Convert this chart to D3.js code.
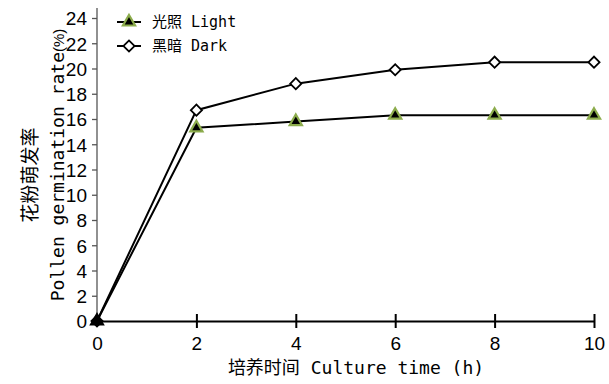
<!DOCTYPE html>
<html>
<head>
<meta charset="utf-8">
<script src="https://cdn.jsdelivr.net/npm/d3@7/dist/d3.min.js"></script>
<style>
  html, body { margin: 0; padding: 0; background: #fff; }
  svg { display: block; }
</style>
</head>
<body>
<svg id="chart" width="609" height="384"></svg>
<script>
// Culture time (h)
const hours = [0, 2, 4, 6, 8, 10];
// Pollen germination rate (%)
const lightRate = [0, 15.3, 15.8, 16.3, 16.3, 16.3];
const darkRate = [0, 16.7, 18.8, 19.9, 20.5, 20.5];
const xTicks = [0, 2, 4, 6, 8, 10];
const yTicks = [0, 2, 4, 6, 8, 10, 12, 14, 16, 18, 20, 22, 24];
const seriesNames = ["光照 Light", "黑暗 Dark"];

const svg = d3.select("#chart");
const monoCJK = "'DejaVu Sans Mono', 'Noto Sans CJK SC', monospace";
const numFont = "'Liberation Sans', Arial, sans-serif";

const x = d3.scaleLinear().domain([0, 10]).range([97, 594]);
const y = d3.scaleLinear().domain([0, 24]).range([321, 18]);

// Y axis: ticks pointing outward
const yAxis = svg.append("g").attr("transform", `translate(${x(0)},0)`)
  .call(d3.axisLeft(y).tickValues(yTicks).tickSize(5).tickPadding(5).tickSizeOuter(0));
yAxis.select(".domain").attr("stroke", "#555").attr("stroke-width", 1.3)
  .attr("d", `M0,8V${y(0)}`);
yAxis.selectAll(".tick line").attr("stroke", "#555").attr("stroke-width", 1.3);
yAxis.selectAll(".tick text").attr("font-family", numFont).attr("font-size", 19)
  .attr("fill", "#000").attr("dy", "0.36em");

// X axis: ticks crossing the baseline
const xAxis = svg.append("g").attr("transform", `translate(0,${y(0)})`)
  .call(d3.axisBottom(x).tickValues(xTicks).tickSize(0).tickPadding(16).tickSizeOuter(0));
xAxis.select(".domain").attr("stroke", "#000").attr("stroke-width", 2);
xAxis.selectAll(".tick line").attr("y1", -7).attr("y2", 7)
  .attr("stroke", "#000").attr("stroke-width", 2);
xAxis.selectAll(".tick").filter(d => d === 0).select("line").remove();
xAxis.selectAll(".tick text").attr("font-family", numFont).attr("font-size", 19)
  .attr("fill", "#000");

// Axis titles
svg.append("text")
  .attr("x", 356).attr("y", 374)
  .attr("text-anchor", "middle")
  .attr("font-family", monoCJK).attr("font-size", 18).attr("fill", "#000")
  .text("培养时间 Culture time (h)");

svg.append("text")
  .attr("transform", "translate(37,175) rotate(-90)")
  .attr("text-anchor", "middle")
  .attr("font-family", monoCJK).attr("font-size", 19).attr("fill", "#000")
  .text("花粉萌发率");

const yt2 = svg.append("text")
  .attr("transform", "translate(64,165) rotate(-90)")
  .attr("text-anchor", "middle")
  .attr("font-family", monoCJK).attr("font-size", 18).attr("fill", "#000");
yt2.append("tspan").text("Pollen germination rate");
yt2.append("tspan").attr("font-family", numFont).attr("font-size", 15).text("(%)");

// Lines
const line = d3.line().x((d, i) => x(hours[i])).y(d => y(d));
svg.append("path").datum(darkRate).attr("d", line)
  .attr("fill", "none").attr("stroke", "#000").attr("stroke-width", 2);
svg.append("path").datum(lightRate).attr("d", line)
  .attr("fill", "none").attr("stroke", "#000").attr("stroke-width", 2);

// Markers
const tri = d3.symbol().type(d3.symbolTriangle).size(64);
const dia = d3.symbol().type(d3.symbolSquare).size(62);

function diamond(g, cx, cy) {
  g.append("path").attr("d", dia())
    .attr("transform", `translate(${cx},${cy}) rotate(45)`)
    .attr("fill", "#fff").attr("stroke", "#000").attr("stroke-width", 1.8);
}
function triangle(g, cx, cy) {
  g.append("path").attr("d", tri())
    .attr("transform", `translate(${cx},${cy})`)
    .attr("fill", "#000").attr("stroke", "#8cac4c").attr("stroke-width", 2.2)
    .attr("stroke-linejoin", "miter");
}

const marks = svg.append("g");
darkRate.forEach((v, i) => {
  if (i === 0) return;
  diamond(marks, x(hours[i]), y(v));
});
lightRate.forEach((v, i) => {
  if (i === 0) return;
  triangle(marks, x(hours[i]), y(v));
});
// Origin points overlap into a solid black mark
marks.append("path").attr("d", dia())
  .attr("transform", `translate(${x(0)},${y(darkRate[0])}) rotate(45)`)
  .attr("fill", "#000").attr("stroke", "#000").attr("stroke-width", 1.8);
marks.append("path").attr("d", tri())
  .attr("transform", `translate(${x(0)},${y(lightRate[0])})`)
  .attr("fill", "#000").attr("stroke", "#000").attr("stroke-width", 2);

// Legend
const legend = svg.append("g");
const rows = [22, 46];
seriesNames.forEach((name, i) => {
  const ly = rows[i];
  legend.append("line").attr("x1", 117).attr("x2", 141).attr("y1", ly).attr("y2", ly)
    .attr("stroke", "#000").attr("stroke-width", 2);
  if (i === 0) triangle(legend, 129, ly);
  else diamond(legend, 129, ly);
  legend.append("text").attr("x", 152).attr("y", ly).attr("dy", "0.35em")
    .attr("font-family", monoCJK).attr("font-size", 15).attr("fill", "#000")
    .text(name);
});
</script>
</body>
</html>
